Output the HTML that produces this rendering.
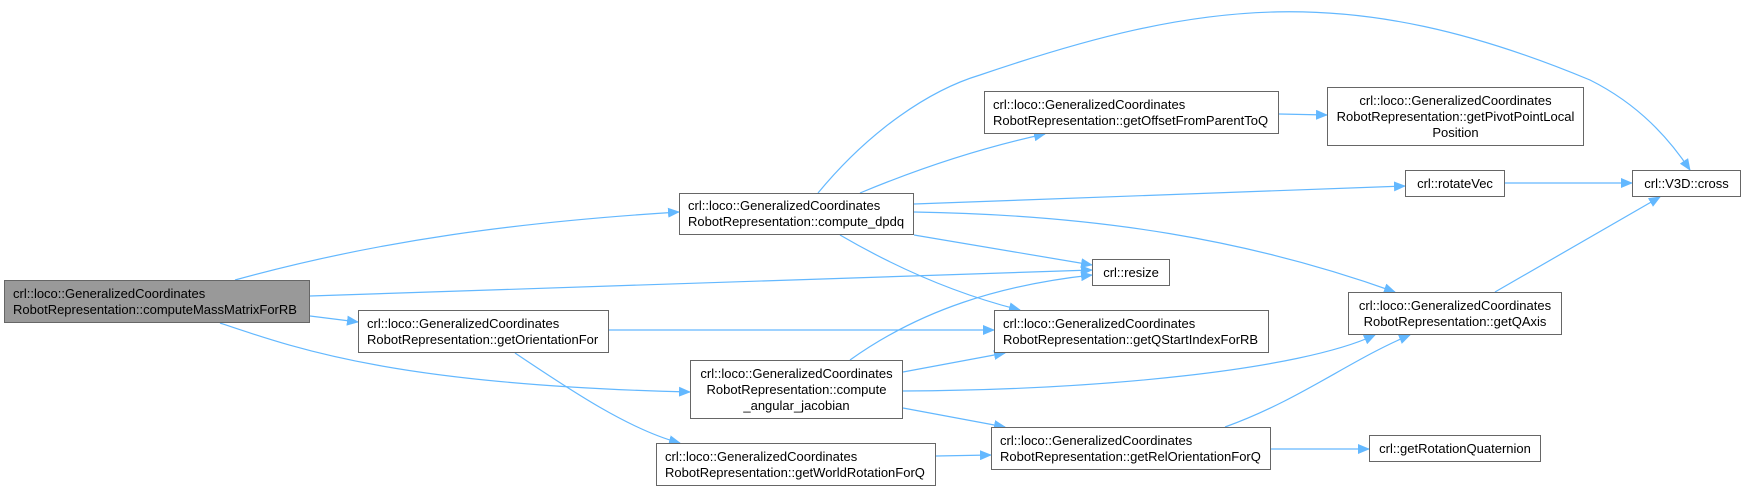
<!DOCTYPE html>
<html><head><meta charset="utf-8"><style>
body{margin:0;background:#fff;width:1746px;height:491px;overflow:hidden}
svg{position:absolute;left:0;top:0}
.n{position:absolute;box-sizing:border-box;border:1px solid #666;background:#fff;font:13px "Liberation Sans",sans-serif;line-height:16px;color:#000;display:flex;align-items:center;justify-content:center;text-align:center;white-space:nowrap}
.l{text-align:left;justify-content:flex-start;padding-left:8px}
</style></head><body>
<svg width="1746" height="491">
<defs><marker id="a" markerWidth="12" markerHeight="10" refX="11" refY="5" orient="auto" markerUnits="userSpaceOnUse"><path d="M0,0 L12,5 L0,10z" fill="#63b8ff"/></marker></defs>
<g fill="none" stroke="#63b8ff" stroke-width="1.2" marker-end="url(#a)">
<path d="M235,280 C380,240 520,222 679,212"/>
<path d="M310,296 L1092,270"/>
<path d="M310,316 L358,322"/>
<path d="M220,323 C300,350 400,385 690,392"/>
<path d="M818,193 C870,130 930,90 980,75 C1200,0 1350,-20 1590,80 C1640,105 1670,140 1690,170"/>
<path d="M860,193 C920,168 980,148 1045,134"/>
<path d="M1279,114 L1327,115"/>
<path d="M914,204 L1405,186"/>
<path d="M1505,183 L1632,183"/>
<path d="M914,212 C1100,215 1250,240 1395,292"/>
<path d="M914,235 L1092,265"/>
<path d="M840,235 C900,270 960,295 1020,310"/>
<path d="M609,330 L994,330"/>
<path d="M515,353 C570,390 630,430 680,443"/>
<path d="M850,360 C920,310 1000,285 1092,275"/>
<path d="M903,372 L1005,353"/>
<path d="M903,391 C1100,390 1300,370 1375,335"/>
<path d="M903,408 L1005,427"/>
<path d="M936,456 L991,455"/>
<path d="M1225,427 C1300,400 1350,360 1410,335"/>
<path d="M1271,449 L1369,449"/>
<path d="M1495,292 L1660,197"/>
</g></svg>
<div class="n l" style="left:4px;top:280px;width:306px;height:43px;background:#999">crl::loco::GeneralizedCoordinates<br>RobotRepresentation::computeMassMatrixForRB</div>
<div class="n l" style="left:679px;top:193px;width:235px;height:42px">crl::loco::GeneralizedCoordinates<br>RobotRepresentation::compute_dpdq</div>
<div class="n l" style="left:358px;top:310px;width:251px;height:43px">crl::loco::GeneralizedCoordinates<br>RobotRepresentation::getOrientationFor</div>
<div class="n" style="left:690px;top:360px;width:213px;height:59px">crl::loco::GeneralizedCoordinates<br>RobotRepresentation::compute<br>_angular_jacobian</div>
<div class="n l" style="left:656px;top:443px;width:280px;height:43px">crl::loco::GeneralizedCoordinates<br>RobotRepresentation::getWorldRotationForQ</div>
<div class="n l" style="left:984px;top:91px;width:295px;height:43px">crl::loco::GeneralizedCoordinates<br>RobotRepresentation::getOffsetFromParentToQ</div>
<div class="n" style="left:1092px;top:259px;width:78px;height:27px">crl::resize</div>
<div class="n l" style="left:994px;top:310px;width:275px;height:43px">crl::loco::GeneralizedCoordinates<br>RobotRepresentation::getQStartIndexForRB</div>
<div class="n l" style="left:991px;top:427px;width:280px;height:43px">crl::loco::GeneralizedCoordinates<br>RobotRepresentation::getRelOrientationForQ</div>
<div class="n" style="left:1327px;top:87px;width:257px;height:59px">crl::loco::GeneralizedCoordinates<br>RobotRepresentation::getPivotPointLocal<br>Position</div>
<div class="n" style="left:1405px;top:170px;width:100px;height:27px">crl::rotateVec</div>
<div class="n" style="left:1632px;top:170px;width:109px;height:27px">crl::V3D::cross</div>
<div class="n" style="left:1348px;top:292px;width:214px;height:43px">crl::loco::GeneralizedCoordinates<br>RobotRepresentation::getQAxis</div>
<div class="n" style="left:1369px;top:435px;width:172px;height:27px">crl::getRotationQuaternion</div>
</body></html>
